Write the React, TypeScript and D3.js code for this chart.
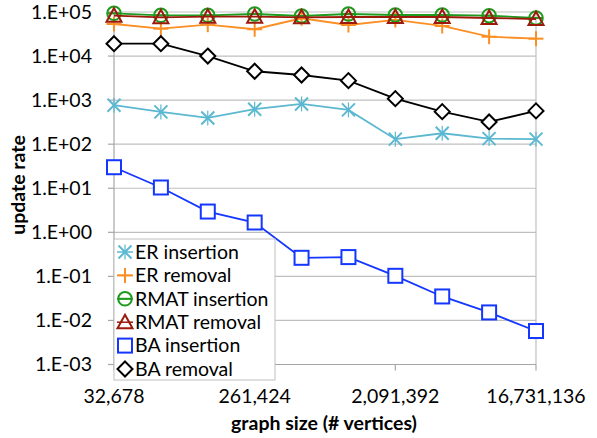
import React from "react";
import * as d3 from "d3";

const sizes = [32678, 65356, 130712, 261424, 522848, 1045696, 2091392, 4182784, 8365568, 16731136];
const xTickIdx = [0, 3, 6, 9];
const yTicks = [1e5, 1e4, 1e3, 1e2, 1e1, 1e0, 1e-1, 1e-2, 1e-3];
const yTickLabels = ["1.E+05", "1.E+04", "1.E+03", "1.E+02", "1.E+01", "1.E+00", "1.E-01", "1.E-02", "1.E-03"];

const erInsertion = [766, 540, 394, 622, 820, 600, 130, 177, 134, 130];
const erRemoval = [53400, 41800, 51500, 40600, 72000, 50700, 65900, 48200, 27500, 24800];
const rmatInsertion = [93400, 84200, 84200, 90100, 81200, 90100, 85500, 85500, 82500, 73100];
const rmatRemoval = [82500, 75800, 78200, 78200, 75800, 77000, 77000, 77000, 73100, 69400];
const baInsertion = [30, 10.4, 2.96, 1.67, 0.264, 0.274, 0.103, 0.035, 0.0152, 0.00575];
const baRemoval = [19100, 19100, 10000, 4520, 3720, 2770, 1080, 548, 320, 569];

const seriesNames = ["ER insertion", "ER removal", "RMAT insertion", "RMAT removal", "BA insertion", "BA removal"];
const seriesColors = ["#5bb8d0", "#fb8f24", "#1e9a1e", "#9c1a0c", "#1436ff", "#000000"];
const seriesMarkers = ["x", "plus", "circle", "triangle", "square", "diamond"];
const seriesData = [erInsertion, erRemoval, rmatInsertion, rmatRemoval, baInsertion, baRemoval];

const FONT = "Lato, 'Open Sans', sans-serif";
const FS = 19.5;

function Marker({ type, x, y, color }: { type: string; x: number; y: number; color: string }) {
  const sw = 2;
  if (type === "x") {
    const r = 6.5;
    return (
      <g stroke={color} strokeWidth={sw}>
        <line x1={x - r} y1={y - r} x2={x + r} y2={y + r} />
        <line x1={x - r} y1={y + r} x2={x + r} y2={y - r} />
        <line x1={x} y1={y - r - 1} x2={x} y2={y + r + 1} strokeWidth={1.2} />
      </g>
    );
  }
  if (type === "plus") {
    const r = 7.5;
    return (
      <g stroke={color} strokeWidth={sw}>
        <line x1={x - r} y1={y} x2={x + r} y2={y} />
        <line x1={x} y1={y - r} x2={x} y2={y + r} />
      </g>
    );
  }
  if (type === "circle") {
    return (
      <g stroke={color} strokeWidth={sw} fill="none">
        <circle cx={x} cy={y} r={6.8} />
        <line x1={x - 6.8} y1={y} x2={x + 6.8} y2={y} />
      </g>
    );
  }
  if (type === "triangle") {
    const r = 7.5;
    return (
      <g stroke={color} strokeWidth={sw} fill="none">
        <path d={`M${x},${y - r}L${x + r},${y + r * 0.8}L${x - r},${y + r * 0.8}Z`} />
      </g>
    );
  }
  if (type === "square") {
    const r = 7;
    return <rect x={x - r} y={y - r} width={2 * r} height={2 * r} stroke={color} strokeWidth={sw} fill="white" />;
  }
  const r = 7.5;
  return (
    <path
      d={`M${x},${y - r}L${x + r},${y}L${x},${y + r}L${x - r},${y}Z`}
      stroke={color}
      strokeWidth={sw}
      fill="white"
    />
  );
}

export default function App() {
  const W = 597;
  const H = 438;
  const left = 114;
  const right = 536;
  const top = 12;
  const bottom = 364.5;

  const x = d3.scalePoint<number>().domain(d3.range(sizes.length)).range([left, right]);
  const y = d3.scaleLog().domain([1e-3, 1e5]).range([bottom, top]);
  const line = d3
    .line<number>()
    .x((_, i) => x(i) as number)
    .y((d) => y(d));

  const legendX = 114;
  const legendY = 239;
  const legendW = 161;
  const legendH = 141;
  const rowH = 23.4;

  return (
    <svg width={W} height={H} style={{ position: "absolute", left: 0, top: 0 }} fontFamily={FONT}>
      <rect width={W} height={H} fill="white" />
      {yTicks.map((t, i) => (
        <line key={i} x1={left} x2={right} y1={y(t)} y2={y(t)} stroke="#bfbfbf" strokeWidth={1.2} />
      ))}
      <line x1={right} x2={right} y1={top} y2={bottom} stroke="#bfbfbf" strokeWidth={1.2} />
      <line x1={left} x2={left} y1={top} y2={bottom} stroke="#a6a6a6" strokeWidth={1.2} />
      {yTicks.map((t, i) => (
        <line key={i} x1={left - 6} x2={left} y1={y(t)} y2={y(t)} stroke="#a6a6a6" strokeWidth={1.2} />
      ))}
      {yTicks.map((t, i) => (
        <text key={i} x={92} y={y(t)} dy="0.35em" textAnchor="end" fontSize={FS} fill="#000">
          {yTickLabels[i]}
        </text>
      ))}
      <line x1={left} x2={right} y1={bottom} y2={bottom} stroke="#a6a6a6" strokeWidth={1.2} />
      {xTickIdx.map((i) => (
        <line key={i} x1={x(i)} x2={x(i)} y1={bottom} y2={bottom + 6} stroke="#a6a6a6" strokeWidth={1.2} />
      ))}
      {xTickIdx.map((i) => (
        <text key={i} x={x(i)} y={396} dy="0.35em" textAnchor="middle" fontSize={FS} fill="#000">
          {d3.format(",")(sizes[i])}
        </text>
      ))}
      <text x={324} y={423} dy="0.35em" textAnchor="middle" fontSize={FS} fontWeight="bold">
        graph size (# vertices)
      </text>
      <text
        transform={`translate(18,${185}) rotate(-90)`}
        dy="0.35em"
        textAnchor="middle"
        fontSize={FS}
        fontWeight="bold"
      >
        update rate
      </text>
      {seriesData.map((data, s) => (
        <g key={s}>
          <path d={line(data) || ""} fill="none" stroke={seriesColors[s]} strokeWidth={1.8} />
          {data.map((v, i) => (
            <Marker key={i} type={seriesMarkers[s]} x={x(i) as number} y={y(v)} color={seriesColors[s]} />
          ))}
        </g>
      ))}
      <rect x={legendX} y={legendY} width={legendW} height={legendH} fill="white" stroke="#bfbfbf" strokeWidth={1} />
      {seriesNames.map((n, i) => {
        const cy = legendY + 13 + i * rowH;
        return (
          <g key={i}>
            <line x1={legendX + 3} x2={legendX + 19} y1={cy} y2={cy} stroke={seriesColors[i]} strokeWidth={1.5} />
            <Marker type={seriesMarkers[i]} x={legendX + 11} y={cy} color={seriesColors[i]} />
            <text x={legendX + 21} y={cy} dy="0.35em" fontSize={FS} fill="#000">
              {n}
            </text>
          </g>
        );
      })}
    </svg>
  );
}
